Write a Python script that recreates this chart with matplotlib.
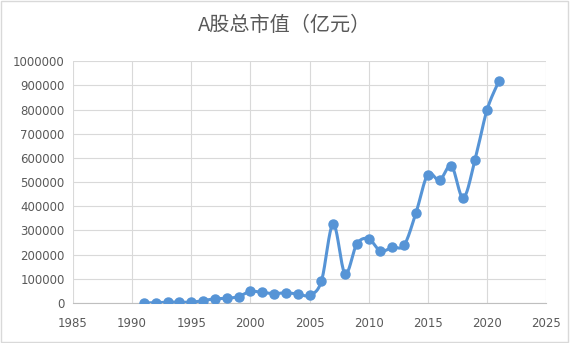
import matplotlib
matplotlib.use('Agg')
import matplotlib.pyplot as plt
import numpy as np

plt.rcParams['font.family'] = ['Noto Sans CJK SC', 'DejaVu Sans']

years = [1991, 1992, 1993, 1994, 1995, 1996, 1997, 1998, 1999, 2000,
         2001, 2002, 2003, 2004, 2005, 2006, 2007, 2008, 2009, 2010,
         2011, 2012, 2013, 2014, 2015, 2016, 2017, 2018, 2019, 2020, 2021]
market_cap = [100, 1048, 3531, 3691, 3474, 9842, 17529, 19506, 26471, 48091,
              43522, 38329, 42458, 37056, 32430, 89404, 327141, 121366, 243939, 265423,
              214758, 230358, 239077, 372547, 531304, 507686, 567086, 434924, 592935, 797238, 916088]
title = 'A股总市值（亿元）'
x_ticks = list(range(1985, 2026, 5))
y_ticks = list(range(0, 1000001, 100000))


def smooth(xs, ys, n=20):
    # Excel-like smoothed line: Catmull-Rom style cubic Bezier between points
    xs = np.asarray(xs, float)
    ys = np.asarray(ys, float)
    px = np.concatenate([[xs[0]], xs, [xs[-1]]])
    py = np.concatenate([[ys[0]], ys, [ys[-1]]])
    out_x, out_y = [], []
    t = np.linspace(0, 1, n)
    for i in range(1, len(px) - 2):
        p0 = np.array([px[i], py[i]])
        p3 = np.array([px[i + 1], py[i + 1]])
        c1 = p0 + (np.array([px[i + 1], py[i + 1]]) - np.array([px[i - 1], py[i - 1]])) / 6
        c2 = p3 - (np.array([px[i + 2], py[i + 2]]) - np.array([px[i], py[i]])) / 6
        b = ((1 - t) ** 3)[:, None] * p0 + (3 * (1 - t) ** 2 * t)[:, None] * c1 \
            + (3 * (1 - t) * t ** 2)[:, None] * c2 + (t ** 3)[:, None] * p3
        out_x.extend(b[:, 0])
        out_y.extend(b[:, 1])
    return out_x, out_y


fig = plt.figure(figsize=(5.7, 3.43), dpi=100)
fig.patch.set_facecolor('white')
fig.patches.append(plt.Rectangle((0.002, 0.003), 0.995, 0.993, transform=fig.transFigure,
                                 fill=False, edgecolor='#d9d9d9', linewidth=1))
ax = fig.add_axes([0.128, 0.1166, 0.83, 0.705])

color = '#5694d6'
sx, sy = smooth(years, market_cap)
ax.plot(sx, sy, color=color, linewidth=2.2, zorder=3)
ax.plot(years, market_cap, 'o', color=color, markersize=6.5, zorder=4)

ax.set_xlim(1985, 2025)
ax.set_ylim(0, 1000000)
ax.set_xticks(x_ticks)
ax.set_yticks(y_ticks)
ax.set_yticklabels([str(v) for v in y_ticks])
ax.grid(True, color='#d9d9d9', linewidth=0.8)
ax.set_axisbelow(True)
for name in ['top', 'right', 'left']:
    ax.spines[name].set_visible(False)
ax.spines['bottom'].set_color('#bfbfbf')
ax.tick_params(length=0, labelsize=8.5, colors='#595959')
ax.tick_params(axis='x', pad=10)
ax.tick_params(axis='y', pad=6)
for lab in ax.get_xticklabels() + ax.get_yticklabels():
    lab.set_family('DejaVu Sans')

fig.text(0.5, 0.927, title, ha='center', va='center', fontsize=14.5, color='#595959')

fig.savefig('out.png', dpi=100)
